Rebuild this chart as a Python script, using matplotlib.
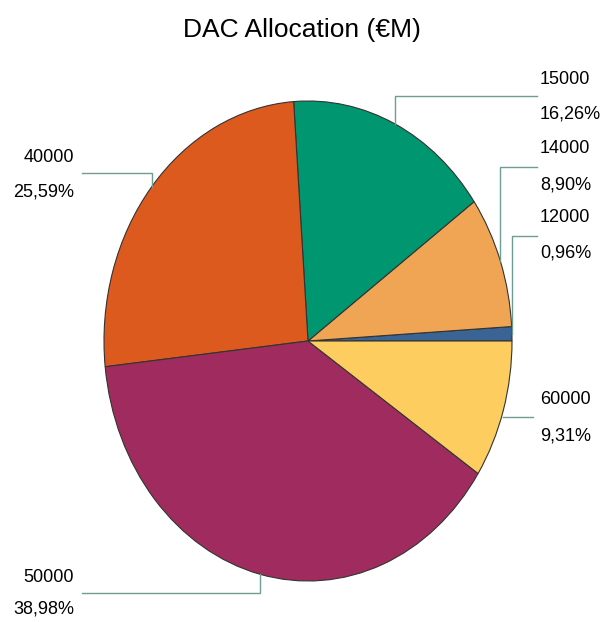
import numpy as np
import matplotlib
matplotlib.use("Agg")
import matplotlib.pyplot as plt

plt.rcParams['font.family'] = ["Liberation Sans", "DejaVu Sans"]

categories = ["12000", "14000", "15000", "40000", "50000", "60000"]
percent_labels = ["0,96%", "8,90%", "16,26%", "25,59%", "38,98%", "9,31%"]
shares = [0.96, 8.90, 16.26, 25.59, 38.98, 9.31]
colors = ["#3a6494", "#f0a555", "#009670", "#dc5a1e", "#a02c5f", "#fecd5f"]
title = "DAC Allocation (€M)"

W, H = 603, 622
fig = plt.figure(figsize=(W / 100, H / 100), dpi=100)

# pie ellipse: x 104..512, y 101..581 (pixels from top)
ax = fig.add_axes([104 / W, (H - 581) / H, 408 / W, 480 / H])
wedges, _ = ax.pie(shares, colors=colors, startangle=0, counterclock=True,
                   wedgeprops=dict(edgecolor="#333333", linewidth=0.8))
ax.set_aspect("auto")
ax.set_xlim(-1, 1)
ax.set_ylim(-1, 1)
ax.axis("off")

fig.text(0.5, 1 - 30 / H, title, ha="center", va="center", fontsize=19)

line_color = "#6e9e92"

# label layout (pixel positions): (elbow y, text x, text align, value y, pct y)
layout = {
    "12000": (236, 540, "left", 217, 253),
    "14000": (167, 540, "left", 148, 185),
    "15000": (96, 540, "left", 79, 114),
    "40000": (173, 74, "right", 157, 192),
    "50000": (593, 74, "right", 577, 609),
    "60000": (417, 540, "left", 399, 436),
}
line_end = {"12000": 537, "14000": 537, "15000": 537, "40000": 82, "50000": 82, "60000": 533}

def px_to_fig(x, y):
    return x / W, 1 - y / H

for w, cat, pct in zip(wedges, categories, percent_labels):
    ang = np.deg2rad((w.theta1 + w.theta2) / 2)
    ex, ey = np.cos(ang), np.sin(ang)
    px, py = ax.transData.transform((ex, ey))
    pyy = H - py
    ly, tx, ha, vy, qy = layout[cat]
    xe = line_end[cat]
    if cat == "60000":
        xs = [px, xe]
        ys = [ly, ly]
    else:
        xs = [px, px, xe]
        ys = [pyy, ly, ly]
    fx = [x / W for x in xs]
    fy = [1 - y / H for y in ys]
    fig.add_artist(plt.Line2D(fx, fy, color=line_color, linewidth=1.0, transform=fig.transFigure))
    fig.text(*px_to_fig(tx, vy), cat, ha=ha, va="center", fontsize=13)
    fig.text(*px_to_fig(tx, qy), pct, ha=ha, va="center", fontsize=13)

fig.savefig("out.png", dpi=100)
